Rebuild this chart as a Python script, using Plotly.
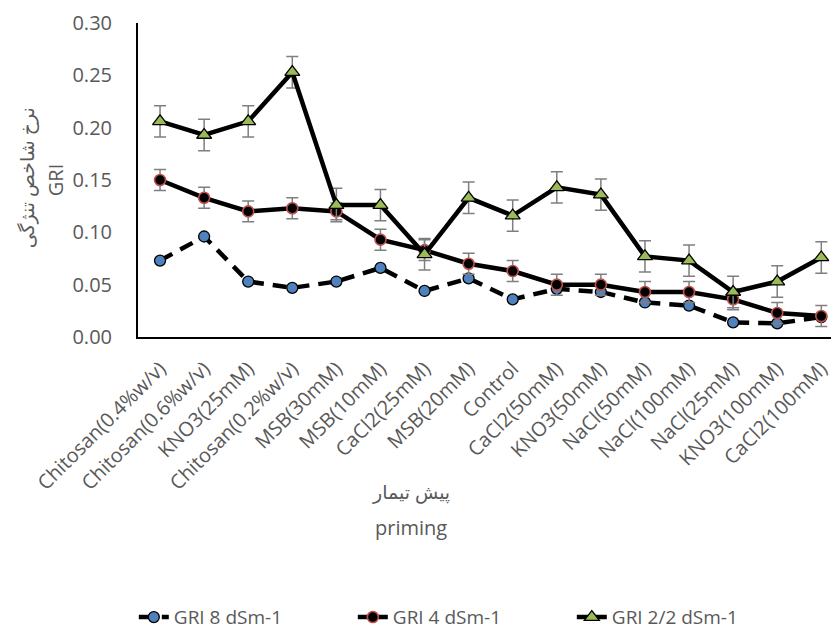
import plotly.graph_objects as go

# Priming treatments (x categories)
treatments = [
    "Chitosan(0.4%w/v)", "Chitosan(0.6%w/v)", "KNO3(25mM)", "Chitosan(0.2%w/v)",
    "MSB(30mM)", "MSB(10mM)", "CaCl2(25mM)", "MSB(20mM)", "Control",
    "CaCl2(50mM)", "KNO3(50mM)", "NaCl(50mM)", "NaCl(100mM)", "NaCl(25mM)",
    "KNO3(100mM)", "CaCl2(100mM)",
]

# GRI values per salinity level
gri_8 = [0.073, 0.096, 0.053, 0.047, 0.053, 0.066, 0.044, 0.056, 0.036,
         0.046, 0.043, 0.033, 0.030, 0.014, 0.013, 0.019]
gri_4 = [0.150, 0.133, 0.120, 0.123, 0.120, 0.093, 0.083, 0.070, 0.063,
         0.050, 0.050, 0.043, 0.043, 0.036, 0.023, 0.020]
gri_22 = [0.206, 0.193, 0.206, 0.253, 0.126, 0.126, 0.079, 0.133, 0.116,
          0.143, 0.136, 0.077, 0.073, 0.043, 0.053, 0.076]

# Standard errors
err_4 = [0.010, 0.010, 0.010, 0.010, 0.008, 0.010, 0.010, 0.010, 0.010,
         0.010, 0.010, 0.010, 0.010, 0.010, 0.010, 0.010]
err_22 = [0.015, 0.015, 0.015, 0.015, 0.016, 0.015, 0.015, 0.015, 0.015,
          0.015, 0.015, 0.015, 0.015, 0.015, 0.015, 0.015]

y_ticks = [0.00, 0.05, 0.10, 0.15, 0.20, 0.25, 0.30]

x_pos = list(range(len(treatments)))
grey = "#595959"
font_family = "Open Sans, DejaVu Sans, sans-serif"

fig = go.Figure()

fig.add_trace(go.Scatter(
    x=x_pos, y=gri_8, name="GRI 8 dSm-1", mode="lines+markers",
    line=dict(color="black", width=4.5, dash="14px,9px"),
    marker=dict(symbol="circle", size=11, color="#4F81BD",
                line=dict(color="black", width=1.3)),
    cliponaxis=False,
))

fig.add_trace(go.Scatter(
    x=x_pos, y=gri_4, name="GRI 4 dSm-1", mode="lines+markers",
    line=dict(color="black", width=4.5),
    marker=dict(symbol="circle", size=11, color="black",
                line=dict(color="#C0504D", width=1.6)),
    error_y=dict(type="data", array=err_4, visible=True,
                 color="#7F7F7F", thickness=1.5, width=6),
    cliponaxis=False,
))

fig.add_trace(go.Scatter(
    x=x_pos, y=gri_22, name="GRI 2/2 dSm-1", mode="lines+markers",
    line=dict(color="black", width=4.5),
    marker=dict(symbol="triangle-up", size=13, color="#9BBB59",
                line=dict(color="black", width=1.3)),
    error_y=dict(type="data", array=err_22, visible=True,
                 color="#7F7F7F", thickness=1.5, width=6),
    cliponaxis=False,
))


def px_x(px):
    return (px - 138) / 695


def px_y(py):
    return (337 - py) / 314


fig.update_layout(
    width=833, height=635,
    margin=dict(l=138, r=0, t=23, b=298),
    paper_bgcolor="white", plot_bgcolor="white",
    font=dict(family=font_family, color=grey, size=19),
    showlegend=True,
    legend=dict(
        orientation="h", xref="container", yref="container",
        x=0.555, xanchor="center", y=0.028, yanchor="middle",
        font=dict(size=19, color=grey),
        entrywidth=174, entrywidthmode="pixels",
        traceorder="normal",
    ),
    xaxis=dict(
        range=[-0.5, 15.22], tickmode="array", tickvals=x_pos,
        ticktext=treatments, tickangle=-45, showgrid=False, zeroline=False,
        showline=True, linecolor="black", linewidth=2, ticks="",
        ticklabelstandoff=10, ticklabeloverflow="allow",
        tickfont=dict(size=20, color=grey),
    ),
    yaxis=dict(
        range=[0, 0.30], tickmode="array", tickvals=y_ticks,
        tickformat=".2f", showgrid=False, zeroline=False,
        showline=True, linecolor="black", linewidth=2, ticks="",
        ticklabelstandoff=20,
        tickfont=dict(size=20, color=grey),
    ),
    annotations=[
        dict(text="پیش تیمار", xref="paper", yref="paper",
             x=px_x(412), y=px_y(492), xanchor="center", yanchor="middle",
             showarrow=False, font=dict(size=19, color=grey)),
        dict(text="priming", xref="paper", yref="paper",
             x=px_x(412), y=px_y(527), xanchor="center", yanchor="middle",
             showarrow=False, font=dict(size=20, color=grey)),
        dict(text="نرخ شاخص تنژگی", xref="paper", yref="paper",
             x=px_x(27), y=px_y(178), textangle=-90,
             xanchor="center", yanchor="middle",
             showarrow=False, font=dict(size=19, color=grey)),
        dict(text="GRI", xref="paper", yref="paper",
             x=px_x(55), y=px_y(180), textangle=-90,
             xanchor="center", yanchor="middle",
             showarrow=False, font=dict(size=20, color=grey)),
    ],
)

fig.write_html("out.html")
